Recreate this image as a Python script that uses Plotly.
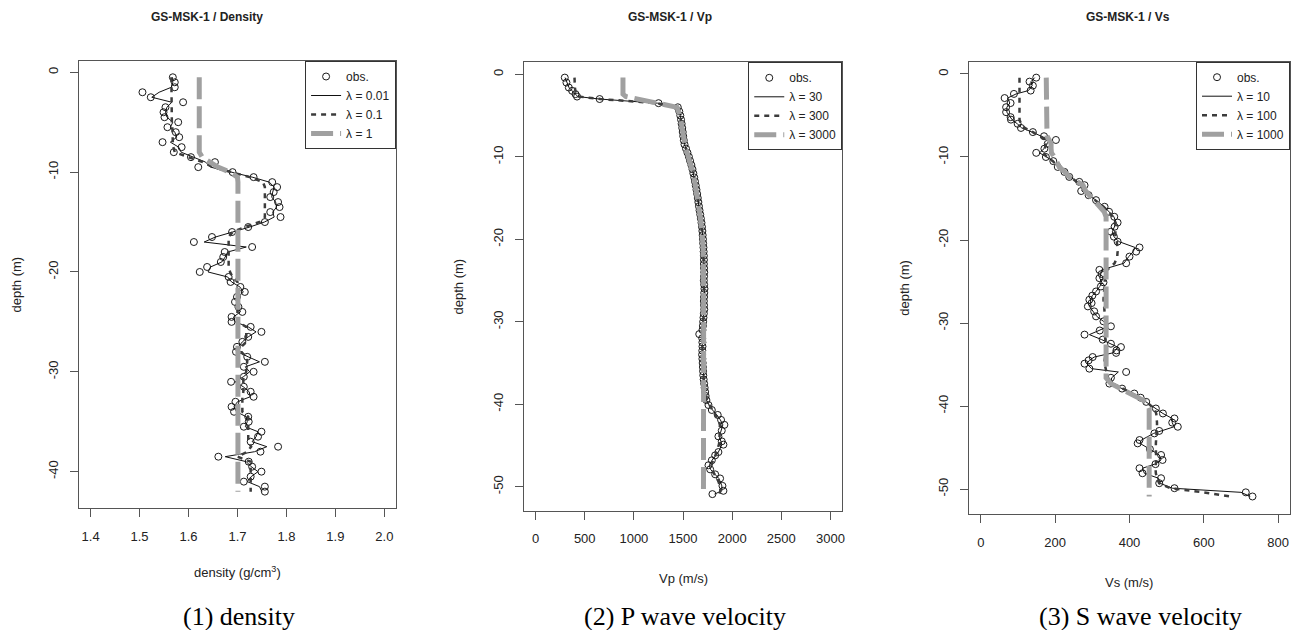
import plotly.graph_objects as go

# ---------------- Panel 1 : density ----------------
dens_depth = [-0.5, -1.0, -1.5, -2.0, -2.5, -3.0, -3.5, -4.0, -4.5, -5.0,
              -5.5, -6.0, -6.5, -7.0, -7.5, -8.0, -8.5, -9.0, -9.5, -10.0,
              -10.5, -11.0, -11.5, -12.0, -12.5, -13.0, -13.5, -14.0, -14.5, -15.0,
              -15.5, -16.0, -16.5, -17.0, -17.5, -18.0, -18.5, -19.0, -19.5, -20.0,
              -20.5, -21.0, -21.5, -22.0, -22.5, -23.0, -23.5, -24.0, -24.5, -25.0,
              -25.5, -26.0, -26.5, -27.0, -27.5, -28.0, -28.5, -29.0, -29.5, -30.0,
              -30.5, -31.0, -31.5, -32.0, -32.5, -33.0, -33.5, -34.0, -34.5, -35.0,
              -35.5, -36.0, -36.5, -37.0, -37.5, -38.0, -38.5, -39.0, -39.5, -40.0,
              -40.5, -41.0, -41.5, -42.0]
dens_obs = [1.568, 1.572, 1.572, 1.506, 1.523, 1.589, 1.553, 1.549, 1.551, 1.579,
            1.557, 1.574, 1.581, 1.547, 1.586, 1.570, 1.605, 1.654, 1.620, 1.690,
            1.733, 1.771, 1.781, 1.774, 1.767, 1.783, 1.786, 1.767, 1.788, 1.756,
            1.722, 1.689, 1.648, 1.611, 1.730, 1.674, 1.671, 1.666, 1.638, 1.623,
            1.682, 1.686, 1.706, 1.715, 1.699, 1.695, 1.702, 1.710, 1.688, 1.688,
            1.727, 1.749, 1.722, 1.710, 1.699, 1.697, 1.720, 1.756, 1.713, 1.733,
            1.713, 1.687, 1.713, 1.727, 1.733, 1.696, 1.688, 1.693, 1.722, 1.723,
            1.713, 1.749, 1.742, 1.727, 1.783, 1.747, 1.661, 1.723, 1.730, 1.749,
            1.727, 1.713, 1.756, 1.756]
dens_l001 = [1.567, 1.568, 1.565, 1.540, 1.525, 1.566, 1.556, 1.553, 1.556, 1.568,
             1.563, 1.572, 1.576, 1.563, 1.580, 1.585, 1.610, 1.635, 1.645, 1.690,
             1.730, 1.765, 1.775, 1.772, 1.770, 1.778, 1.780, 1.772, 1.775, 1.755,
             1.725, 1.690, 1.655, 1.632, 1.718, 1.680, 1.675, 1.668, 1.645, 1.640,
             1.680, 1.688, 1.705, 1.712, 1.702, 1.698, 1.702, 1.706, 1.692, 1.695,
             1.722, 1.738, 1.722, 1.710, 1.702, 1.700, 1.722, 1.745, 1.716, 1.725,
             1.712, 1.695, 1.712, 1.724, 1.726, 1.700, 1.693, 1.698, 1.718, 1.720,
             1.716, 1.742, 1.738, 1.730, 1.760, 1.735, 1.675, 1.718, 1.728, 1.742,
             1.728, 1.720, 1.745, 1.750]
dens_l01 = [1.565, 1.565, 1.565, 1.565, 1.565, 1.565, 1.565, 1.566, 1.566, 1.566,
            1.567, 1.567, 1.568, 1.568, 1.569, 1.572, 1.600, 1.630, 1.650, 1.690,
            1.725, 1.752, 1.756, 1.756, 1.756, 1.756, 1.756, 1.756, 1.756, 1.745,
            1.715, 1.690, 1.682, 1.682, 1.682, 1.682, 1.682, 1.682, 1.682, 1.685,
            1.690, 1.700, 1.700, 1.700, 1.700, 1.700, 1.700, 1.700, 1.700, 1.700,
            1.718, 1.718, 1.718, 1.718, 1.708, 1.708, 1.718, 1.720, 1.718, 1.718,
            1.712, 1.712, 1.712, 1.712, 1.710, 1.710, 1.710, 1.710, 1.722, 1.722,
            1.722, 1.722, 1.722, 1.722, 1.728, 1.720, 1.700, 1.727, 1.727, 1.727,
            1.727, 1.727, 1.727, 1.727]
dens_l1 = [1.622, 1.622, 1.622, 1.622, 1.622, 1.622, 1.622, 1.622, 1.622, 1.622,
           1.622, 1.622, 1.622, 1.622, 1.622, 1.622, 1.628, 1.645, 1.660, 1.685,
           1.700, 1.701, 1.701, 1.701, 1.701, 1.701, 1.701, 1.701, 1.701, 1.701,
           1.701, 1.701, 1.701, 1.701, 1.701, 1.701, 1.701, 1.701, 1.701, 1.701,
           1.701, 1.701, 1.701, 1.701, 1.701, 1.701, 1.701, 1.701, 1.701, 1.701,
           1.701, 1.701, 1.701, 1.701, 1.701, 1.701, 1.701, 1.701, 1.701, 1.701,
           1.701, 1.701, 1.701, 1.701, 1.701, 1.701, 1.701, 1.701, 1.701, 1.701,
           1.701, 1.701, 1.701, 1.701, 1.701, 1.701, 1.701, 1.701, 1.701, 1.701,
           1.701, 1.701, 1.701, 1.701]

# ---------------- Panel 2 : Vp ----------------
vp_depth = [-0.4, -1.0, -1.6, -2.0, -2.4, -2.7, -3.0, -3.5, -4.0, -4.5,
            -5.0, -5.5, -6.0, -6.5, -7.0, -7.5, -8.0, -8.5, -9.0, -9.5,
            -10.0, -10.5, -11.0, -11.5, -12.0, -12.5, -13.0, -13.5, -14.0, -14.5,
            -15.0, -15.5, -16.0, -16.5, -17.0, -17.5, -18.0, -18.5, -19.0, -19.5,
            -20.0, -20.5, -21.0, -21.5, -22.0, -22.5, -23.0, -23.5, -24.0, -24.5,
            -25.0, -25.5, -26.0, -26.5, -27.0, -27.5, -28.0, -28.5, -29.0, -29.5,
            -30.0, -30.5, -31.0, -31.5, -32.0, -32.5, -33.0, -33.5, -34.0, -34.5,
            -35.0, -35.5, -36.0, -36.5, -37.0, -37.5, -38.0, -38.5, -39.0, -39.5,
            -40.1, -40.7, -41.3, -41.9, -42.5, -43.2, -43.9, -44.5, -44.9, -45.8,
            -46.2, -46.8, -47.4, -47.9, -48.5, -49.0, -49.9, -50.5, -50.9]
vp_obs = [297, 314, 338, 372, 406, 422, 652, 1251, 1447, 1462,
          1472, 1480, 1486, 1492, 1497, 1502, 1508, 1515, 1530, 1545,
          1560, 1572, 1585, 1596, 1605, 1614, 1622, 1630, 1637, 1644,
          1650, 1656, 1662, 1668, 1675, 1682, 1688, 1693, 1697, 1700,
          1703, 1705, 1708, 1710, 1712, 1713, 1712, 1714, 1716, 1714,
          1712, 1715, 1718, 1716, 1714, 1712, 1714, 1716, 1712, 1708,
          1705, 1702, 1698, 1665, 1695, 1697, 1698, 1696, 1694, 1697,
          1700, 1702, 1704, 1706, 1710, 1715, 1720, 1725, 1730, 1738,
          1759, 1793, 1853, 1887, 1921, 1894, 1860, 1894, 1911, 1860,
          1827, 1793, 1759, 1776, 1827, 1877, 1901, 1911, 1799]
vp_l30 = [300, 316, 340, 372, 404, 430, 650, 1240, 1440, 1460,
          1472, 1480, 1486, 1492, 1497, 1502, 1508, 1515, 1530, 1545,
          1560, 1572, 1585, 1596, 1605, 1614, 1622, 1630, 1637, 1644,
          1650, 1656, 1662, 1668, 1675, 1682, 1688, 1693, 1697, 1700,
          1703, 1705, 1708, 1710, 1712, 1713, 1712, 1714, 1716, 1714,
          1712, 1715, 1718, 1716, 1714, 1712, 1714, 1716, 1712, 1708,
          1705, 1702, 1698, 1688, 1695, 1697, 1698, 1696, 1694, 1697,
          1700, 1702, 1704, 1706, 1710, 1715, 1720, 1725, 1730, 1738,
          1765, 1800, 1845, 1880, 1905, 1890, 1870, 1885, 1895, 1860,
          1830, 1795, 1768, 1780, 1825, 1865, 1895, 1895, 1820]
vp_l300 = [396, 396, 400, 405, 415, 440, 660, 1230, 1430, 1455,
           1470, 1478, 1485, 1491, 1497, 1502, 1508, 1516, 1530, 1545,
           1560, 1572, 1584, 1595, 1604, 1613, 1621, 1629, 1636, 1643,
           1649, 1655, 1661, 1667, 1674, 1681, 1687, 1692, 1696, 1699,
           1702, 1704, 1707, 1709, 1711, 1712, 1712, 1713, 1714, 1714,
           1713, 1714, 1715, 1715, 1714, 1713, 1713, 1713, 1711, 1708,
           1705, 1701, 1697, 1692, 1694, 1696, 1697, 1696, 1695, 1697,
           1700, 1702, 1704, 1706, 1710, 1715, 1720, 1726, 1732, 1742,
           1770, 1800, 1835, 1860, 1875, 1875, 1870, 1870, 1865, 1845,
           1830, 1805, 1790, 1795, 1820, 1850, 1875, 1880, 1870]
vp_l3000 = [889, 889, 889, 889, 889, 920, 1050, 1260, 1440, 1455,
            1468, 1476, 1484, 1490, 1496, 1502, 1508, 1516, 1528, 1542,
            1556, 1569, 1582, 1593, 1603, 1612, 1620, 1628, 1635, 1642,
            1648, 1654, 1660, 1666, 1672, 1678, 1684, 1689, 1693, 1697,
            1700, 1702, 1704, 1706, 1707, 1708, 1709, 1710, 1710, 1710,
            1710, 1710, 1710, 1710, 1710, 1709, 1709, 1708, 1707, 1706,
            1705, 1704, 1703, 1702, 1702, 1702, 1702, 1703, 1703, 1704,
            1704, 1705, 1705, 1706, 1706, 1707, 1707, 1708, 1708, 1708,
            1708, 1708, 1708, 1708, 1708, 1708, 1708, 1708, 1708, 1708,
            1708, 1708, 1708, 1708, 1708, 1708, 1708, 1708, 1708]

# ---------------- Panel 3 : Vs ----------------
vs_depth = [-0.44, -0.92, -1.4, -2.0, -2.4, -2.9, -3.5, -4.0, -4.6, -5.2,
            -5.5, -6.0, -6.5, -7.0, -7.5, -7.95, -8.4, -9.0, -9.5, -10.0,
            -10.5, -11.2, -11.8, -12.4, -13.0, -13.4, -14.1, -14.6, -15.2, -16.0,
            -16.6, -17.2, -17.9, -18.4, -19.0, -19.6, -20.2, -20.9, -21.4, -22.0,
            -22.8, -23.6, -24.1, -24.6, -25.1, -25.6, -26.2, -26.7, -27.2, -27.6,
            -28.0, -28.6, -29.2, -29.8, -30.4, -30.9, -31.4, -32.0, -32.5, -32.9,
            -33.3, -33.6, -34.1, -34.5, -34.9, -35.5, -35.9, -36.6, -37.3, -37.9,
            -38.5, -39.0, -39.5, -40.3, -40.9, -41.5, -42.0, -42.5, -43.0, -43.3,
            -44.1, -44.5, -45.2, -45.9, -46.5, -47.0, -47.5, -48.1, -48.7, -49.3,
            -49.9, -50.4, -50.9]
vs_obs = [149, 131, 140, 134, 89, 64, 80, 68, 68, 80,
          81, 99, 108, 140, 170, 202, 180, 171, 149, 175,
          195, 207, 225, 238, 265, 279, 270, 290, 310, 333,
          345, 359, 368, 360, 350, 358, 368, 427, 418, 400,
          391, 319, 325, 319, 330, 323, 310, 300, 292, 298,
          288, 305, 310, 330, 350, 320, 279, 328, 350, 377,
          365, 364, 301, 290, 279, 292, 391, 350, 346, 380,
          413, 430, 445, 471, 490, 521, 515, 530, 480, 467,
          427, 422, 455, 485, 489, 470, 427, 435, 485, 480,
          521, 713, 731]
vs_l10 = [145, 135, 138, 128, 95, 72, 78, 70, 70, 80,
          84, 98, 110, 138, 165, 185, 178, 170, 158, 176,
          195, 208, 224, 240, 262, 274, 272, 290, 310, 332,
          345, 358, 364, 360, 354, 358, 372, 415, 410, 398,
          385, 325, 322, 320, 326, 320, 310, 300, 295, 296,
          292, 303, 312, 330, 342, 318, 292, 325, 348, 368,
          362, 355, 305, 292, 285, 298, 370, 352, 350, 380,
          410, 428, 445, 470, 490, 515, 515, 520, 482, 465,
          432, 428, 455, 480, 485, 468, 435, 440, 478, 482,
          515, 700, 725]
vs_l100 = [104, 104, 104, 104, 104, 104, 104, 104, 104, 104,
           104, 108, 118, 140, 160, 175, 176, 172, 168, 178,
           194, 207, 224, 238, 258, 270, 278, 290, 308, 330,
           344, 355, 362, 362, 360, 362, 366, 368, 368, 367,
           360, 340, 335, 334, 333, 332, 331, 330, 330, 331,
           332, 333, 334, 335, 336, 335, 334, 335, 336, 337,
           337, 336, 334, 333, 333, 335, 338, 342, 355, 382,
           408, 428, 446, 466, 472, 474, 474, 474, 473, 472,
           471, 471, 471, 472, 472, 471, 470, 471, 474, 480,
           510, 600, 670]
vs_l1000 = [176, 176, 176, 176, 176, 176, 176, 176, 176, 176,
            176, 176, 176, 176, 178, 184, 189, 189, 190, 198,
            204, 211, 226, 238, 260, 275, 282, 292, 305, 322,
            332, 337, 337, 337, 337, 337, 337, 337, 337, 337,
            337, 337, 337, 337, 337, 337, 337, 337, 337, 337,
            337, 337, 337, 337, 337, 337, 337, 337, 337, 337,
            337, 337, 337, 337, 337, 337, 337, 337, 350, 378,
            400, 425, 445, 453, 453, 453, 453, 453, 453, 453,
            453, 453, 453, 453, 453, 453, 453, 453, 453, 453,
            453, 453, 453]

# ---------------- texts / ticks ----------------
panel_titles = ["GS-MSK-1 / Density", "GS-MSK-1 / Vp", "GS-MSK-1 / Vs"]
x_titles = ["density (g/cm<sup>3</sup>)", "Vp (m/s)", "Vs (m/s)"]
y_title = "depth (m)"
captions = ["(1) density", "(2) P wave velocity", "(3) S wave velocity"]
legend_labels = [["obs.", "\u03bb = 0.01", "\u03bb = 0.1", "\u03bb = 1"],
                 ["obs.", "\u03bb = 30", "\u03bb = 300", "\u03bb = 3000"],
                 ["obs.", "\u03bb = 10", "\u03bb = 100", "\u03bb = 1000"]]
dens_xticks = [1.4, 1.5, 1.6, 1.7, 1.8, 1.9, 2.0]
dens_xticktext = ["1.4", "1.5", "1.6", "1.7", "1.8", "1.9", "2.0"]
vp_xticks = [0, 500, 1000, 1500, 2000, 2500, 3000]
vs_xticks = [0, 200, 400, 600, 800]
dens_yticks = [0, -10, -20, -30, -40]
vel_yticks = [0, -10, -20, -30, -40, -50]

# ---------------- figure ----------------
W, H = 1302, 630
SANS = "Liberation Sans, Arial, sans-serif"
SERIF = "Liberation Serif, Times New Roman, serif"
TXT = "#222222"
FRAME = "#555555"

# frame boxes in pixels: (left, right, top, bottom)
boxes = [(79, 397, 61, 508), (525, 844.2, 62.3, 510.7), (971.2, 1293, 61.7, 514)]
xranges = [[1.376, 2.024], [-120, 3120], [-32, 832]]
yranges = [[-43.64, 1.13], [-52.91, 1.455], [-53.01, 1.48]]

panels = [
    (dens_depth, dens_obs, dens_l001, dens_l01, dens_l1),
    (vp_depth, vp_obs, vp_l30, vp_l300, vp_l3000),
    (vs_depth, vs_obs, vs_l10, vs_l100, vs_l1000),
]

fig = go.Figure()
legend_names = ["legend", "legend2", "legend3"]
for i, (dep, obs, s1, s2, s3) in enumerate(panels):
    xa = "x" if i == 0 else f"x{i+1}"
    ya = "y" if i == 0 else f"y{i+1}"
    lg = legend_names[i]
    labs = legend_labels[i]
    fig.add_trace(go.Scatter(x=obs, y=dep, mode="markers", name=labs[0],
                             marker=dict(symbol="circle-open", size=7, color="#1a1a1a",
                                         line=dict(width=1, color="#1a1a1a")),
                             xaxis=xa, yaxis=ya, legend=lg))
    fig.add_trace(go.Scatter(x=s1, y=dep, mode="lines", name=labs[1],
                             line=dict(color="#111111", width=1),
                             xaxis=xa, yaxis=ya, legend=lg))
    fig.add_trace(go.Scatter(x=s2, y=dep, mode="lines", name=labs[2],
                             line=dict(color="#3c3c3c", width=2.5, dash="5px,5px"),
                             xaxis=xa, yaxis=ya, legend=lg))
    fig.add_trace(go.Scatter(x=s3, y=dep, mode="lines", name=labs[3],
                             line=dict(color="#a0a0a0", width=5, dash="22px,7px"),
                             xaxis=xa, yaxis=ya, legend=lg))

xtickcfg = [
    dict(tickvals=dens_xticks, ticktext=dens_xticktext),
    dict(tickvals=vp_xticks, ticktext=[str(v) for v in vp_xticks]),
    dict(tickvals=vs_xticks, ticktext=[str(v) for v in vs_xticks]),
]
ytickcfg = [dens_yticks, vel_yticks, vel_yticks]

layout = dict(width=W, height=H, margin=dict(l=0, r=0, t=0, b=0),
              plot_bgcolor="white", paper_bgcolor="white",
              font=dict(family=SANS, size=13, color=TXT))
annotations = []
for i, (l, r, t, b) in enumerate(boxes):
    xk = "xaxis" if i == 0 else f"xaxis{i+1}"
    yk = "yaxis" if i == 0 else f"yaxis{i+1}"
    ya = "y" if i == 0 else f"y{i+1}"
    xa = "x" if i == 0 else f"x{i+1}"
    layout[xk] = dict(domain=[l / W, r / W], anchor=ya, range=xranges[i],
                      tickmode="array", **xtickcfg[i],
                      showline=True, linecolor=FRAME, linewidth=1, mirror=True,
                      ticks="outside", ticklen=8, tickcolor=FRAME, tickwidth=1,
                      ticklabelstandoff=8,
                      showgrid=False, zeroline=False,
                      tickfont=dict(family=SANS, size=13, color=TXT))
    layout[yk] = dict(domain=[1 - b / H, 1 - t / H], anchor=xa, range=yranges[i],
                      tickmode="array", tickvals=ytickcfg[i],
                      ticktext=[str(v) for v in ytickcfg[i]],
                      tickangle=-90,
                      showline=True, linecolor=FRAME, linewidth=1, mirror=True,
                      ticks="outside", ticklen=8, tickcolor=FRAME, tickwidth=1,
                      ticklabelstandoff=7,
                      showgrid=False, zeroline=False,
                      tickfont=dict(family=SANS, size=13, color=TXT))
    lg = "legend" if i == 0 else f"legend{i+1}"
    layout[lg] = dict(x=r / W, y=1 - t / H, xanchor="right", yanchor="top",
                      bgcolor="white", bordercolor="#333333", borderwidth=1,
                      font=dict(family=SANS, size=12, color=TXT),
                      itemwidth=30, tracegroupgap=0)

title_x = [207, 672, 1131]
ytitle_x = [17, 460, 907]
xtitle_y = [572, 578, 582]
caption_x = [240, 687, 1143]
for i, (l, r, t, b) in enumerate(boxes):
    cx = (l + r) / 2
    annotations.append(dict(text="<b>" + panel_titles[i] + "</b>", x=title_x[i] / W, y=1 - 17 / H,
                            xref="paper", yref="paper", showarrow=False,
                            xanchor="center", yanchor="middle",
                            font=dict(family=SANS, size=12, color=TXT)))
    annotations.append(dict(text=y_title, x=ytitle_x[i] / W, y=1 - ((t + b) / 2) / H,
                            xref="paper", yref="paper", showarrow=False, textangle=-90,
                            xanchor="center", yanchor="middle",
                            font=dict(family=SANS, size=13, color=TXT)))
    annotations.append(dict(text=x_titles[i], x=cx / W, y=1 - xtitle_y[i] / H,
                            xref="paper", yref="paper", showarrow=False,
                            xanchor="center", yanchor="middle",
                            font=dict(family=SANS, size=13, color=TXT)))
    annotations.append(dict(text=captions[i], x=caption_x[i] / W, y=1 - 616 / H,
                            xref="paper", yref="paper", showarrow=False,
                            xanchor="center", yanchor="middle",
                            font=dict(family=SERIF, size=26, color="#000000")))
layout["annotations"] = annotations
fig.update_layout(**layout)
fig.write_html("out.html")
